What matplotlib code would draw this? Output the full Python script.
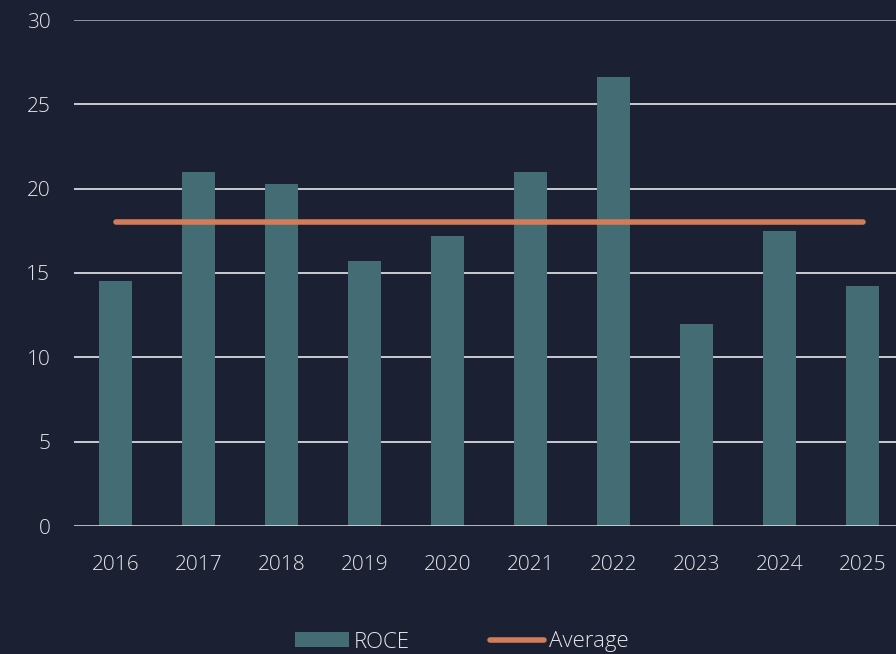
import matplotlib
matplotlib.use("Agg")
import matplotlib.pyplot as plt
from matplotlib.patches import Patch
from matplotlib.lines import Line2D

years = ["2016", "2017", "2018", "2019", "2020", "2021", "2022", "2023", "2024", "2025"]
roce = [14.5, 21.0, 20.3, 15.7, 17.2, 21.0, 26.6, 12.0, 17.5, 14.2]
average = [18.0] * len(years)
yticks = [0, 5, 10, 15, 20, 25, 30]

bg = "#1b2032"
bar_color = "#436c74"
avg_color = "#d27c5a"
text_color = "#e6e6e6"

plt.rcParams['font.family'] = ['Open Sans', 'DejaVu Sans']

fig = plt.figure(figsize=(8.96, 6.54), dpi=100, facecolor=bg)
ax = fig.add_axes([74/896, 1 - 526/654, 830/896, 506/654], facecolor=bg)

x = list(range(len(years)))
ax.bar(x, roce, width=0.4, color=bar_color, zorder=2)
ax.plot(x, average, color=avg_color, linewidth=4.0, solid_capstyle='round', zorder=3)

ax.set_xlim(-0.5, len(years) - 0.5)
ax.set_ylim(0, 30)
ax.set_yticks(yticks)
ax.set_xticks(x)
ax.set_xticklabels(years)

for y in yticks[1:]:
    col = "#a8a8ad" if y == 30 else "#e8e8ec"
    ax.axhline(y, color=col, linewidth=1.2, zorder=1)
ax.axhline(0, color="#e8e8ec", linewidth=1.8, zorder=4)

for s in ax.spines.values():
    s.set_visible(False)
ax.tick_params(length=0, colors=text_color, labelsize=15)
ax.tick_params(axis='x', pad=21)
ax.tick_params(axis='y', pad=17)
for lbl in ax.get_xticklabels() + ax.get_yticklabels():
    lbl.set_fontweight('light')

handles = [Patch(facecolor=bar_color, edgecolor='none'),
           Line2D([0], [0], color=avg_color, linewidth=4.0, solid_capstyle='round')]
leg = fig.legend(handles, ["ROCE", "Average"], loc='center', bbox_to_anchor=(462/896, 1 - 642/654),
                 ncol=2, frameon=False, fontsize=16, handlelength=2.4, handleheight=0.68,
                 handletextpad=0.25, columnspacing=3.6)
for t in leg.get_texts():
    t.set_color(text_color)
    t.set_fontweight('light')

fig.savefig("out.png", dpi=100, facecolor=bg)
